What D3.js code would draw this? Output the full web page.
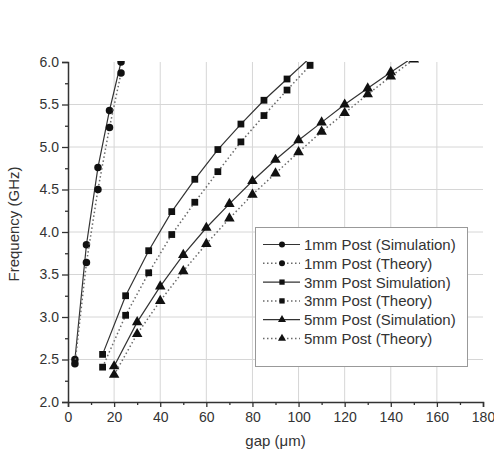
<!DOCTYPE html>
<html>
<head>
<meta charset="utf-8">
<script src="https://cdn.jsdelivr.net/npm/d3@7"></script>
<style>
  body { margin: 0; background: #fff; }
  text { font-family: "Liberation Sans", Arial, sans-serif; fill: #333; }
</style>
</head>
<body>
<svg id="chart"></svg>
<script>
// chart size
const width = 494;
const height = 453;
const marginTop = 62;
const marginRight = 11;
const marginBottom = 51;
const marginLeft = 68;

// data
const gap1mm = [3, 8, 13, 18, 23];
const sim1mm = [2.50, 3.85, 4.76, 5.43, 6.00];
const theory1mm = [2.45, 3.64, 4.50, 5.23, 5.87];

const gap3mm = [15, 25, 35, 45, 55, 65, 75, 85, 95, 105];
const sim3mm = [2.56, 3.25, 3.78, 4.24, 4.62, 4.97, 5.27, 5.55, 5.80, 6.05];
const theory3mm = [2.41, 3.02, 3.52, 3.97, 4.35, 4.71, 5.06, 5.37, 5.67, 5.96];

const gap5mm = [20, 30, 40, 50, 60, 70, 80, 90, 100, 110, 120, 130, 140, 150];
const sim5mm = [2.42, 2.94, 3.36, 3.73, 4.05, 4.33, 4.60, 4.85, 5.08, 5.29, 5.50, 5.69, 5.88, 6.06];
const theory5mm = [2.32, 2.80, 3.19, 3.54, 3.86, 4.16, 4.44, 4.69, 4.94, 5.18, 5.40, 5.62, 5.83, 6.03];

const xTicks = [0, 20, 40, 60, 80, 100, 120, 140, 160, 180];
const yTicks = [2.0, 2.5, 3.0, 3.5, 4.0, 4.5, 5.0, 5.5, 6.0];

const series = [
  { name: "1mm Post (Simulation)", gap: gap1mm, f: sim1mm, marker: "circle", dotted: false },
  { name: "1mm Post (Theory)", gap: gap1mm, f: theory1mm, marker: "circle", dotted: true },
  { name: "3mm Post Simulation)", gap: gap3mm, f: sim3mm, marker: "square", dotted: false },
  { name: "3mm Post (Theory)", gap: gap3mm, f: theory3mm, marker: "square", dotted: true },
  { name: "5mm Post (Simulation)", gap: gap5mm, f: sim5mm, marker: "triangle", dotted: false },
  { name: "5mm Post (Theory)", gap: gap5mm, f: theory5mm, marker: "triangle", dotted: true }
];

const x = d3.scaleLinear().domain([0, 180]).range([marginLeft, width - marginRight]);
const y = d3.scaleLinear().domain([2, 6]).range([height - marginBottom, marginTop]);

const svg = d3.select("#chart")
  .attr("width", width)
  .attr("height", height)
  .attr("viewBox", [0, 0, width, height]);

svg.append("defs").append("clipPath").attr("id", "clip")
  .append("rect")
  .attr("x", marginLeft).attr("y", marginTop - 1)
  .attr("width", width - marginLeft - marginRight)
  .attr("height", height - marginTop - marginBottom + 1);

// grid
const grid = svg.append("g").attr("stroke", "#d6d6d6").attr("stroke-width", 1);
grid.selectAll("line.gx")
  .data(xTicks.filter(d => d > 0 && d < 180))
  .join("line")
  .attr("x1", d => x(d)).attr("x2", d => x(d))
  .attr("y1", marginTop).attr("y2", height - marginBottom);
grid.selectAll("line.gy")
  .data(yTicks.filter(d => d > 2 && d < 6))
  .join("line")
  .attr("x1", marginLeft).attr("x2", width - marginRight)
  .attr("y1", d => y(d)).attr("y2", d => y(d));

// marker symbols
const symbolOf = {
  circle: d3.symbol(d3.symbolCircle, 44),
  square: d3.symbol(d3.symbolSquare, 46),
  triangle: d3.symbol(d3.symbolTriangle, 48)
};

const line = d3.line().x(d => x(d[0])).y(d => y(d[1]));

const plot = svg.append("g").attr("clip-path", "url(#clip)");

series.forEach(s => {
  const pts = s.gap.map((g, i) => [g, s.f[i]]);
  plot.append("path")
    .datum(pts)
    .attr("fill", "none")
    .attr("stroke", s.dotted ? "#6a6a6a" : "#333")
    .attr("stroke-width", s.dotted ? 1.5 : 1.2)
    .attr("stroke-dasharray", s.dotted ? "1.5,2.5" : null)
    .attr("d", line);
  plot.append("g")
    .selectAll("path")
    .data(pts)
    .join("path")
    .attr("transform", d => `translate(${x(d[0])},${y(d[1])})`)
    .attr("d", symbolOf[s.marker])
    .attr("fill", "#111");
});

// axes
const xAxis = svg.append("g")
  .attr("transform", `translate(0,${height - marginBottom})`)
  .call(d3.axisBottom(x).tickValues(xTicks).tickFormat(d3.format("d")).tickSize(5).tickPadding(5));
xAxis.selectAll(".tick").filter(d => d === 180).select("line").attr("y2", 5);
svg.append("g")
  .attr("transform", `translate(0,${height - marginBottom})`)
  .call(d3.axisBottom(x).tickValues(d3.range(10, 180, 20)).tickFormat("").tickSize(3))
  .call(g => g.select(".domain").remove());

const yAxis = svg.append("g")
  .attr("transform", `translate(${marginLeft},0)`)
  .call(d3.axisLeft(y).tickValues(yTicks).tickFormat(d3.format(".1f")).tickSize(6).tickPadding(3));
svg.append("g")
  .attr("transform", `translate(${marginLeft},0)`)
  .call(d3.axisLeft(y).tickValues(d3.range(2.25, 6, 0.5)).tickFormat("").tickSize(3))
  .call(g => g.select(".domain").remove());

svg.selectAll(".domain").attr("stroke", "#333").attr("stroke-width", 1.5);
svg.selectAll(".tick line").attr("stroke", "#333").attr("stroke-width", 1.3);
svg.selectAll(".tick text").style("font-size", "14px").attr("fill", "#333");

// axis titles
svg.append("text")
  .attr("x", (marginLeft + width - marginRight) / 2)
  .attr("y", 446)
  .attr("text-anchor", "middle")
  .style("font-size", "15px")
  .text("gap (\u03BCm)");

svg.append("text")
  .attr("transform", `translate(19,224) rotate(-90)`)
  .attr("text-anchor", "middle")
  .style("font-size", "15px")
  .text("Frequency (GHz)");

// legend
const legend = svg.append("g");
legend.append("rect")
  .attr("x", 255.5).attr("y", 227.5)
  .attr("width", 212).attr("height", 139)
  .attr("fill", "#fff")
  .attr("stroke", "#999");

const rowY = i => 244.5 + i * 18.8;
const rows = legend.selectAll("g.row")
  .data(series)
  .join("g")
  .attr("transform", (d, i) => `translate(0,${rowY(i)})`);
rows.append("line")
  .attr("x1", 263).attr("x2", 300)
  .attr("stroke", d => d.dotted ? "#6a6a6a" : "#333")
  .attr("stroke-width", d => d.dotted ? 1.5 : 1.2)
  .attr("stroke-dasharray", d => d.dotted ? "1.5,2.5" : null);
rows.append("path")
  .attr("transform", "translate(282,0)")
  .attr("d", d => d3.symbol(
    d.marker === "circle" ? d3.symbolCircle : d.marker === "square" ? d3.symbolSquare : d3.symbolTriangle, 28)())
  .attr("fill", "#111");
rows.append("text")
  .attr("x", 304)
  .attr("dy", "0.36em")
  .style("font-size", "15px")
  .text(d => d.name);
</script>
</body>
</html>
